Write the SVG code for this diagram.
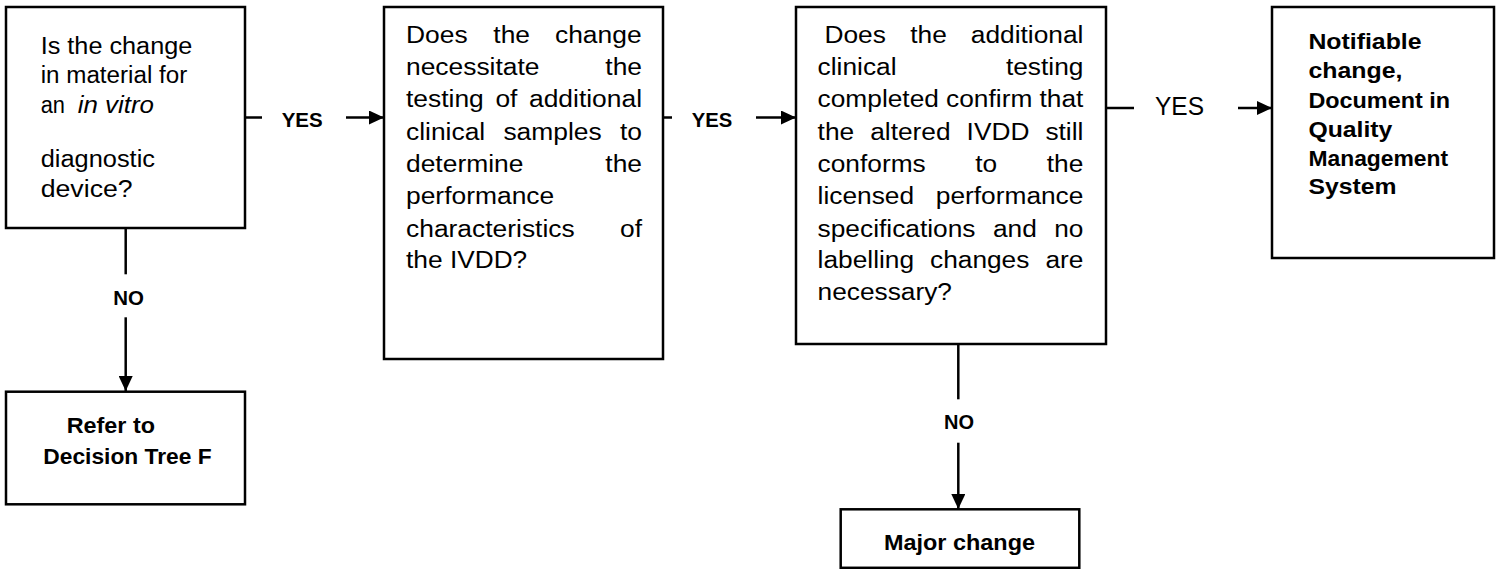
<svg xmlns="http://www.w3.org/2000/svg" width="1499" height="569" viewBox="0 0 1499 569">
<style>
.box{fill:#fff;stroke:#000;stroke-width:2.5}
.ln{fill:none;stroke:#000;stroke-width:2.5}
text{font-family:"Liberation Sans",Arial,sans-serif;fill:#000}
.r{font-size:23px}
.bx{font-size:22px;font-weight:bold}
.lb{font-size:21px;font-weight:bold}
.ly{font-size:25px}
.it{font-style:italic}
</style>
<defs>
<marker id="ah" markerUnits="userSpaceOnUse" markerWidth="16" markerHeight="14" refX="15" refY="7" orient="auto">
<path d="M0,0 L15,7 L0,14 z" fill="#000"/>
</marker>
</defs>
<rect width="1499" height="569" fill="#fff"/>

<g id="connectors">
<line class="ln" x1="245" y1="117.5" x2="262" y2="117.5"/>
<line class="ln" x1="346" y1="117.5" x2="384" y2="117.5" marker-end="url(#ah)"/>
<line class="ln" x1="663" y1="117.5" x2="672" y2="117.5"/>
<line class="ln" x1="756" y1="117.5" x2="796" y2="117.5" marker-end="url(#ah)"/>
<line class="ln" x1="1106" y1="108" x2="1134" y2="108"/>
<line class="ln" x1="1238" y1="108" x2="1272" y2="108" marker-end="url(#ah)"/>
<line class="ln" x1="125.7" y1="228" x2="125.7" y2="274.3"/>
<line class="ln" x1="125.7" y1="317.3" x2="125.7" y2="391" marker-end="url(#ah)"/>
<line class="ln" x1="958.3" y1="344" x2="958.3" y2="399.3"/>
<line class="ln" x1="958.3" y1="442.7" x2="958.3" y2="509" marker-end="url(#ah)"/>
<text class="lb" x="281.7" y="126.5" textLength="41" lengthAdjust="spacingAndGlyphs">YES</text>
<text class="lb" x="691.7" y="126.5" textLength="40.5" lengthAdjust="spacingAndGlyphs">YES</text>
<text class="ly" x="1155" y="114.5" textLength="49" lengthAdjust="spacingAndGlyphs">YES</text>
<text class="lb" x="113.3" y="305" textLength="30.7" lengthAdjust="spacingAndGlyphs">NO</text>
<text class="lb" x="944" y="429.3" textLength="30" lengthAdjust="spacingAndGlyphs">NO</text>
</g>

<g id="q1">
<rect class="box" x="6" y="7" width="239" height="221"/>
<text class="r" x="40.7" y="54" textLength="151.6" lengthAdjust="spacingAndGlyphs">Is the change</text>
<text class="r" x="40.7" y="83.3" textLength="146.6" lengthAdjust="spacingAndGlyphs">in material for</text>
<text class="r" x="40.7" y="113.3" textLength="24.3" lengthAdjust="spacingAndGlyphs">an</text>
<text class="r it" x="77.7" y="113.3" textLength="76.3" lengthAdjust="spacingAndGlyphs">in vitro</text>
<text class="r" x="40.7" y="166.7" textLength="114.3" lengthAdjust="spacingAndGlyphs">diagnostic</text>
<text class="r" x="40.7" y="196.7" textLength="92" lengthAdjust="spacingAndGlyphs">device?</text>
</g>

<g id="refer">
<rect class="box" x="6" y="391.7" width="239" height="112.6"/>
<text class="bx" x="66.7" y="433.3" textLength="88.3" lengthAdjust="spacingAndGlyphs">Refer to</text>
<text class="bx" x="43.3" y="464.3" textLength="168.4" lengthAdjust="spacingAndGlyphs">Decision Tree F</text>
</g>

<g id="q2">
<rect class="box" x="384" y="7" width="279" height="352"/>
<text class="r" x="406" y="42.7" textLength="61.6" lengthAdjust="spacingAndGlyphs">Does</text>
<text class="r" x="493.3" y="42.7" textLength="36.7" lengthAdjust="spacingAndGlyphs">the</text>
<text class="r" x="555" y="42.7" textLength="86.6" lengthAdjust="spacingAndGlyphs">change</text>
<text class="r" x="406" y="75" textLength="133.5" lengthAdjust="spacingAndGlyphs">necessitate</text>
<text class="r" x="605.3" y="75" textLength="36.7" lengthAdjust="spacingAndGlyphs">the</text>
<text class="r" x="406" y="107.3" textLength="77.8" lengthAdjust="spacingAndGlyphs">testing</text>
<text class="r" x="495.4" y="107.3" textLength="22" lengthAdjust="spacingAndGlyphs">of</text>
<text class="r" x="529" y="107.3" textLength="113" lengthAdjust="spacingAndGlyphs">additional</text>
<text class="r" x="406" y="139.7" textLength="79.2" lengthAdjust="spacingAndGlyphs">clinical</text>
<text class="r" x="503.4" y="139.7" textLength="98.3" lengthAdjust="spacingAndGlyphs">samples</text>
<text class="r" x="620" y="139.7" textLength="22" lengthAdjust="spacingAndGlyphs">to</text>
<text class="r" x="406" y="172" textLength="117.4" lengthAdjust="spacingAndGlyphs">determine</text>
<text class="r" x="605.3" y="172" textLength="36.7" lengthAdjust="spacingAndGlyphs">the</text>
<text class="r" x="406" y="204.3" textLength="148.2" lengthAdjust="spacingAndGlyphs">performance</text>
<text class="r" x="406" y="236.7" textLength="168.7" lengthAdjust="spacingAndGlyphs">characteristics</text>
<text class="r" x="620" y="236.7" textLength="22" lengthAdjust="spacingAndGlyphs">of</text>
<text class="r" x="406" y="268.3" textLength="36.7" lengthAdjust="spacingAndGlyphs">the</text>
<text class="r" x="450" y="268.3" textLength="77.2" lengthAdjust="spacingAndGlyphs">IVDD?</text>
</g>

<g id="q3">
<rect class="box" x="796" y="7" width="310" height="337"/>
<text class="r" x="824.5" y="42.7" textLength="61.4" lengthAdjust="spacingAndGlyphs">Does</text>
<text class="r" x="910.3" y="42.7" textLength="36.6" lengthAdjust="spacingAndGlyphs">the</text>
<text class="r" x="970.8" y="42.7" textLength="112.6" lengthAdjust="spacingAndGlyphs">additional</text>
<text class="r" x="817.6" y="75" textLength="78.9" lengthAdjust="spacingAndGlyphs">clinical</text>
<text class="r" x="1005.9" y="75" textLength="77.5" lengthAdjust="spacingAndGlyphs">testing</text>
<text class="r" x="817.6" y="107.3" textLength="121.3" lengthAdjust="spacingAndGlyphs">completed</text>
<text class="r" x="946.1" y="107.3" textLength="86.2" lengthAdjust="spacingAndGlyphs">confirm</text>
<text class="r" x="1039.5" y="107.3" textLength="43.9" lengthAdjust="spacingAndGlyphs">that</text>
<text class="r" x="817.6" y="139.7" textLength="36.6" lengthAdjust="spacingAndGlyphs">the</text>
<text class="r" x="870.2" y="139.7" textLength="80.4" lengthAdjust="spacingAndGlyphs">altered</text>
<text class="r" x="966.6" y="139.7" textLength="62.8" lengthAdjust="spacingAndGlyphs">IVDD</text>
<text class="r" x="1045.4" y="139.7" textLength="38" lengthAdjust="spacingAndGlyphs">still</text>
<text class="r" x="817.6" y="172" textLength="108.1" lengthAdjust="spacingAndGlyphs">conforms</text>
<text class="r" x="975.3" y="172" textLength="21.9" lengthAdjust="spacingAndGlyphs">to</text>
<text class="r" x="1046.8" y="172" textLength="36.6" lengthAdjust="spacingAndGlyphs">the</text>
<text class="r" x="817.6" y="204.3" textLength="96.5" lengthAdjust="spacingAndGlyphs">licensed</text>
<text class="r" x="935.8" y="204.3" textLength="147.6" lengthAdjust="spacingAndGlyphs">performance</text>
<text class="r" x="817.6" y="236.7" textLength="157.9" lengthAdjust="spacingAndGlyphs">specifications</text>
<text class="r" x="992.9" y="236.7" textLength="43.9" lengthAdjust="spacingAndGlyphs">and</text>
<text class="r" x="1054.2" y="236.7" textLength="29.2" lengthAdjust="spacingAndGlyphs">no</text>
<text class="r" x="817.6" y="268.3" textLength="96.5" lengthAdjust="spacingAndGlyphs">labelling</text>
<text class="r" x="930" y="268.3" textLength="99.4" lengthAdjust="spacingAndGlyphs">changes</text>
<text class="r" x="1045.4" y="268.3" textLength="38" lengthAdjust="spacingAndGlyphs">are</text>
<text class="r" x="817.6" y="300.3" textLength="134.4" lengthAdjust="spacingAndGlyphs">necessary?</text>
</g>

<g id="notifiable">
<rect class="box" x="1272" y="7" width="222" height="251"/>
<text class="bx" x="1308.4" y="49.3" textLength="113.2" lengthAdjust="spacingAndGlyphs">Notifiable</text>
<text class="bx" x="1308.4" y="78.3" textLength="94" lengthAdjust="spacingAndGlyphs">change,</text>
<text class="bx" x="1308.4" y="108.3" textLength="141.6" lengthAdjust="spacingAndGlyphs">Document in</text>
<text class="bx" x="1308.4" y="136.7" textLength="83.9" lengthAdjust="spacingAndGlyphs">Quality</text>
<text class="bx" x="1308.4" y="165.7" textLength="139.8" lengthAdjust="spacingAndGlyphs">Management</text>
<text class="bx" x="1308.4" y="194.3" textLength="88" lengthAdjust="spacingAndGlyphs">System</text>
</g>

<g id="major">
<rect class="box" x="840.7" y="509.3" width="238.6" height="58.5"/>
<text class="bx" x="884" y="550" textLength="151" lengthAdjust="spacingAndGlyphs">Major change</text>
</g>
</svg>
